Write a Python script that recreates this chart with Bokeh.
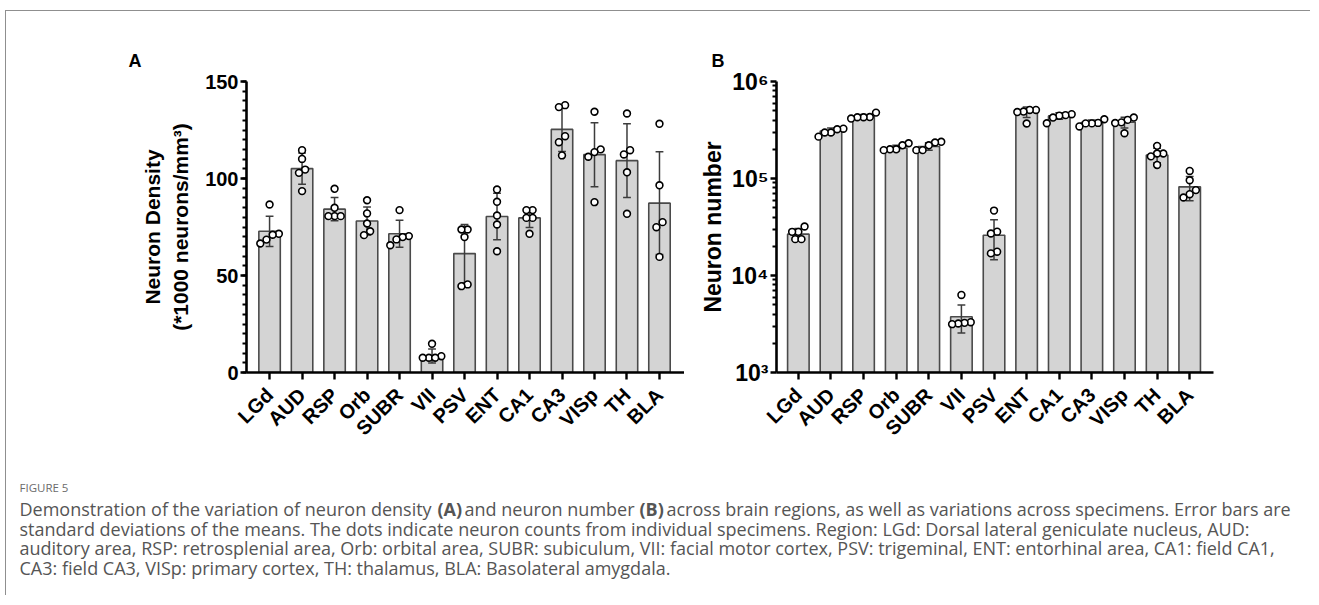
import numpy as np
from bokeh.plotting import figure
from bokeh.models import Range1d, FixedTicker, Label, LinearAxis
from bokeh.layouts import column, row
from bokeh.embed import file_html
from bokeh.resources import INLINE

# ---------------- data ----------------
regions = ["LGd", "AUD", "RSP", "Orb", "SUBR", "VII", "PSV", "ENT", "CA1", "CA3", "VISp", "TH", "BLA"]

# Panel A: neuron density (*1000 neurons/mm^3)
density_mean = [72.8, 105.1, 84.2, 78.1, 71.5, 8.5, 61.3, 80.4, 79.7, 125.3, 112.3, 109.2, 87.3]
density_sd = [7.8, 8.0, 6.0, 7.2, 7.0, 3.6, 15.0, 12.0, 5.0, 11.4, 16.5, 19.0, 26.5]
density_points = [
    [86.6, 71.5, 71.0, 68.5, 66.5],
    [114.6, 110.1, 104.6, 102.9, 93.5],
    [94.7, 84.9, 80.6, 80.6, 80.6],
    [88.8, 82.0, 76.8, 72.8, 70.8],
    [83.7, 70.3, 69.8, 68.6, 65.6],
    [14.8, 8.4, 7.6, 7.6, 7.6],
    [73.7, 73.7, 69.8, 45.4, 44.5],
    [94.3, 88.0, 80.9, 76.3, 62.5],
    [83.7, 83.7, 79.7, 79.7, 71.5],
    [137.8, 136.8, 121.8, 118.7, 111.9],
    [134.4, 115.0, 113.6, 111.2, 87.8],
    [133.5, 114.6, 112.4, 103.2, 81.8],
    [128.2, 96.5, 77.5, 74.9, 59.6],
]

# Panel B: neuron number (thousands)
number_mean_k = [26.7, 309, 436, 206, 214, 3.75, 26.0, 486, 442, 378, 380, 175, 82]
number_sd_k = [3.8, 22, 22, 14, 19, 1.2, 11.5, 60, 35, 22, 48, 30, 23]
number_points_k = [
    [32.0, 28.2, 28.2, 23.7, 23.7],
    [326, 322, 298, 298, 270],
    [478, 430, 428, 428, 415],
    [231, 220, 200, 200, 196],
    [239, 235, 220, 196, 196],
    [6.3, 3.3, 3.25, 3.2, 3.15],
    [46.7, 28.3, 27.1, 17.6, 16.9],
    [509, 509, 490, 484, 369],
    [460, 450, 444, 425, 371],
    [408, 374, 370, 370, 344],
    [425, 402, 379, 373, 293],
    [217, 181, 181, 169, 138],
    [119.6, 95.9, 75.9, 68.9, 63.7],
]

density_ticks = [0, 50, 100, 150]
number_ticks = [1e3, 1e4, 1e5, 1e6]
number_tick_labels = ["10³", "10⁴", "10⁵", "10⁶"]

caption_head = "FIGURE 5"
caption_lines = [
    "standard deviations of the means. The dots indicate neuron counts from individual specimens. Region: LGd: Dorsal lateral geniculate nucleus, AUD:",
    "auditory area, RSP: retrosplenial area, Orb: orbital area, SUBR: subiculum, VII: facial motor cortex, PSV: trigeminal, ENT: entorhinal area, CA1: field CA1,",
    "CA3: field CA3, VISp: primary cortex, TH: thalamus, BLA: Basolateral amygdala.",
]
caption_first = [
    ("Demonstration of the variation of neuron density", "normal"),
    ("(A)", "bold"),
    ("and neuron number", "normal"),
    ("(B)", "bold"),
    ("across brain regions, as well as variations across specimens. Error bars are", "normal"),
]

# ---------------- styling ----------------
FONT = "Liberation Sans"
BAR_FILL = "#d4d4d4"
BAR_LINE = "#4a4a4a"
ERR = "#3c3c3c"
BAR_W = 0.66
PX_PER_CAT = 32.5
DOT = 6.8
DOT_STEP = 6.2

x_idx = np.arange(len(regions))


def swarm_offsets(pix, d):
    pix = np.asarray(pix, float)
    order = np.argsort(pix)
    offs = np.zeros(len(pix))
    clusters, cur = [], [order[0]]
    for a, b in zip(order[:-1], order[1:]):
        if pix[b] - pix[a] < d:
            cur.append(b)
        else:
            clusters.append(cur)
            cur = [b]
    clusters.append(cur)
    for c in clusters:
        n = len(c)
        for k, i in enumerate(c):
            offs[i] = (k - (n - 1) / 2) * d
    return offs


def style_axes(p):
    p.grid.visible = False
    p.outline_line_color = None
    for ax in (p.xaxis[0], p.yaxis[0]):
        ax.axis_line_width = 2.6
        ax.axis_line_color = "black"
        ax.major_tick_line_width = 2.4
        ax.major_tick_line_color = "black"
        ax.minor_tick_line_width = 1.8
        ax.minor_tick_line_color = "black"
        ax.major_tick_in = 0
        ax.minor_tick_in = 0
        ax.major_label_text_font = FONT
        ax.major_label_text_font_style = "bold"
        ax.major_label_text_color = "black"
        ax.axis_label_text_font = FONT
        ax.axis_label_text_font_style = "bold"
        ax.axis_label_text_color = "black"
    xa = p.xaxis[0]
    xa.ticker = FixedTicker(ticks=list(x_idx))
    xa.major_label_overrides = {int(i): r for i, r in zip(x_idx, regions)}
    xa.major_label_orientation = np.pi / 4
    xa.major_label_text_font_size = "20px"
    xa.major_tick_out = 7
    xa.major_label_standoff = 12
    p.title.text_font = FONT
    p.title.text_font_style = "bold"
    p.title.text_font_size = "18px"
    p.title.text_color = "black"
    p.title.align = "left"
    p.title.standoff = 21


def draw_bars(p, means, sds, pts, bottom, to_pix):
    means = np.asarray(means, float)
    sds = np.asarray(sds, float)
    p.vbar(x=x_idx, top=means, bottom=bottom, width=BAR_W,
           fill_color=BAR_FILL, line_color=BAR_LINE, line_width=1.6)
    lo = means - sds
    hi = means + sds
    cap = 0.12
    p.segment(x0=x_idx, y0=lo, x1=x_idx, y1=hi, line_color=ERR, line_width=1.5)
    p.segment(x0=x_idx - cap, y0=hi, x1=x_idx + cap, y1=hi, line_color=ERR, line_width=1.5)
    p.segment(x0=x_idx - cap, y0=lo, x1=x_idx + cap, y1=lo, line_color=ERR, line_width=1.5)
    xs, ys = [], []
    for i, vals in enumerate(pts):
        offs = swarm_offsets(to_pix(np.asarray(vals, float)), DOT_STEP) / PX_PER_CAT
        xs.extend(i + offs)
        ys.extend(vals)
    p.scatter(xs, ys, size=DOT, marker="circle", fill_color="white",
              line_color="black", line_width=1.6)


# ---------------- panel A ----------------
pA = figure(width=678, height=448, output_backend="svg", toolbar_location=None,
            title="A",
            x_range=Range1d(-0.71, 12.77), y_range=Range1d(0, 150),
            min_border_left=240, min_border_right=0, min_border_top=70, min_border_bottom=87)
style_axes(pA)
pA.title.offset = -118
ya = pA.yaxis[0]
ya.ticker = FixedTicker(ticks=density_ticks, minor_ticks=list(range(0, 151, 5)))
ya.major_label_text_font_size = "20px"
ya.major_tick_out = 6
ya.minor_tick_out = 4
ya.major_label_standoff = 2
ya.axis_label = "(*1000 neurons/mm³)"
ya.axis_label_text_font_size = "21px"
ya.axis_label_standoff = 10
outer = LinearAxis(ticker=FixedTicker(ticks=[]), axis_line_color=None,
                   major_tick_line_color=None, minor_tick_line_color=None,
                   major_tick_out=0, minor_tick_out=0, major_label_standoff=0,
                   axis_label="Neuron Density", axis_label_standoff=3,
                   axis_label_text_font=FONT, axis_label_text_font_style="bold",
                   axis_label_text_font_size="21px", axis_label_text_color="black")
pA.add_layout(outer, "left")
draw_bars(pA, density_mean, density_sd, density_points, 0, lambda v: v * 291 / 150)

# ---------------- panel B ----------------
number_mean = [v * 1000 for v in number_mean_k]
number_sd = [v * 1000 for v in number_sd_k]
number_points = [[v * 1000 for v in g] for g in number_points_k]

pB = figure(width=626, height=448, output_backend="svg", toolbar_location=None,
            title="B",
            x_range=Range1d(-0.67, 12.73), y_range=Range1d(1e3, 1e6), y_axis_type="log",
            min_border_left=92, min_border_right=97, min_border_top=70, min_border_bottom=87)
style_axes(pB)
pB.title.offset = -65
yb = pB.yaxis[0]
minor = [m * 10 ** e for e in range(3, 6) for m in range(2, 10)]
yb.ticker = FixedTicker(ticks=number_ticks, minor_ticks=minor)
yb.major_label_overrides = {t: l for t, l in zip(number_ticks, number_tick_labels)}
yb.major_label_text_font_size = "23px"
yb.major_tick_out = 6
yb.minor_tick_out = 4
yb.major_label_standoff = 2
yb.axis_label = "Neuron number"
yb.axis_label_text_font_size = "23px"
yb.axis_label_standoff = 3
draw_bars(pB, number_mean, number_sd, number_points, 1e3, lambda v: np.log10(v) * 97)

# ---------------- caption ----------------
CW, CH = 1302, 136
pC = figure(width=CW, height=CH, output_backend="svg", toolbar_location=None,
            x_range=Range1d(0, CW), y_range=Range1d(CH, 0),
            x_axis_location=None, y_axis_location=None,
            min_border=0, min_border_left=0, min_border_right=0,
            min_border_top=0, min_border_bottom=0)
pC.grid.visible = False
pC.outline_line_color = None

CAP_FONT = "Open Sans"
CAP_COLOR = "#555555"
CAP_SIZE = "18px"
OX, OY = 7, 460
pC.add_layout(Label(x=20 - OX, y=488 - OY, text=caption_head, text_baseline="middle",
                    text_font=CAP_FONT, text_font_size="11.5px", text_color="#6b6b6b"))
seg_x = [20, 438, 465, 640, 667]
for (txt, style), sx in zip(caption_first, seg_x):
    pC.add_layout(Label(x=sx - OX, y=509 - OY, text=txt, text_baseline="middle",
                        text_font=CAP_FONT, text_font_style=style, text_font_size=CAP_SIZE,
                        text_color=CAP_COLOR))
for txt, ly in zip(caption_lines, (529, 548, 568)):
    pC.add_layout(Label(x=20 - OX, y=ly - OY, text=txt, text_baseline="middle",
                        text_font=CAP_FONT, text_font_size=CAP_SIZE, text_color=CAP_COLOR))

layout = column(row(pA, pB), pC, margin=(10, 0, 0, 5),
                styles={"border-top": "1px solid #8f8f8f", "border-left": "1px solid #8f8f8f"})

open("out.html", "w").write(file_html(layout, INLINE))
